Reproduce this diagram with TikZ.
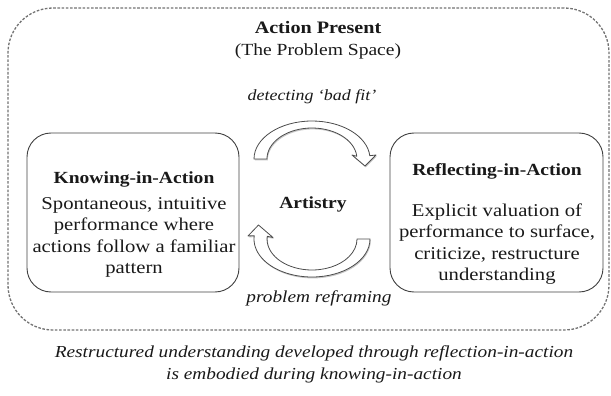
\documentclass[tikz,border=0pt]{standalone}
\usepackage{fontspec}
\setmainfont[FakeStretch=1.15]{Liberation Serif}
\begin{document}
\begin{tikzpicture}[x=1pt,y=-1pt,
  every node/.style={inner sep=0pt, text=black!90},
  heading/.style={font=\fontsize{17}{20}\selectfont\bfseries, anchor=base},
  body/.style={font=\fontsize{18}{21.5}\selectfont, align=center, anchor=base},
  cue/.style={font=\fontsize{#1}{21.5}\selectfont\itshape, anchor=base},
  cue/.default=16.8,
  panel/.style={draw=black!75, line width=0.9pt, rounded corners=24pt},
  stage/.style={draw=black!55, line width=1.3pt, dash pattern=on 2.6pt off 1.6pt, rounded corners=45pt},
  bentarrow/.style={fill=white, draw=black!70, line width=0.8pt, line join=round},
  arrowshadow/.style={fill=black!22, draw=none}]
\useasboundingbox (0,0) rectangle (611,396);

% outer problem space
\node[stage, minimum width=601pt, minimum height=322pt] (space) at (308.5,169) {};
\node[heading, font=\fontsize{17.5}{20}\selectfont\bfseries] (title) at (318,34) {Action Present};
\node[anchor=base, font=\fontsize{17}{20}\selectfont] (subtitle) at (318,56) {(The Problem Space)};
\node[cue=15.6] (detect) at (312,100) {detecting ‘bad fit’};
\node[cue] (reframe) at (319,302) {problem reframing};

% boxes
\node[panel, minimum width=212pt, minimum height=159pt] (kia) at (133,212.5) {};
\node[panel, minimum width=213pt, minimum height=159pt] (ria) at (496.5,212.5) {};
\node[heading] (kiahead) at (134,183) {Knowing-in-Action};
\node[body] (kiabody) at (134,273.5) {Spontaneous, intuitive\\performance where\\actions follow a familiar\\pattern};
\node[heading] (riahead) at (497,175) {Reflecting-in-Action};
\node[body] (riabody) at (497,280.5) {Explicit valuation of\\performance to surface,\\criticize, restructure\\understanding};
\node[heading] (art) at (313,208) {Artistry};

% curved arrows (shadows)
\begin{scope}[shift={(0.8,1.4)}]
\path[arrowshadow] (254,159) arc[start angle=180, end angle=355, x radius=58, y radius=38]
  -- (376,155) -- (365,166) -- (352,155) -- (356.8,156.3)
  arc[start angle=355, end angle=180, x radius=45, y radius=31] -- cycle;
\path[arrowshadow] (370,239) arc[start angle=0, end angle=185, x radius=58, y radius=38]
  -- (248,236) -- (258.5,225) -- (273,237.5) -- (267.2,236.3)
  arc[start angle=185, end angle=0, x radius=45, y radius=31] -- cycle;
\end{scope}
% curved arrows
\path[bentarrow] (254,159) arc[start angle=180, end angle=355, x radius=58, y radius=38]
  -- (376,155) -- (365,166) -- (352,155) -- (356.8,156.3)
  arc[start angle=355, end angle=180, x radius=45, y radius=31] -- cycle;
\path[bentarrow] (370,239) arc[start angle=0, end angle=185, x radius=58, y radius=38]
  -- (248,236) -- (258.5,225) -- (273,237.5) -- (267.2,236.3)
  arc[start angle=185, end angle=0, x radius=45, y radius=31] -- cycle;

% note below
\node[cue, align=center] (note) at (314,379) {Restructured understanding developed through reflection-in-action\\is embodied during knowing-in-action};
\end{tikzpicture}
\end{document}
